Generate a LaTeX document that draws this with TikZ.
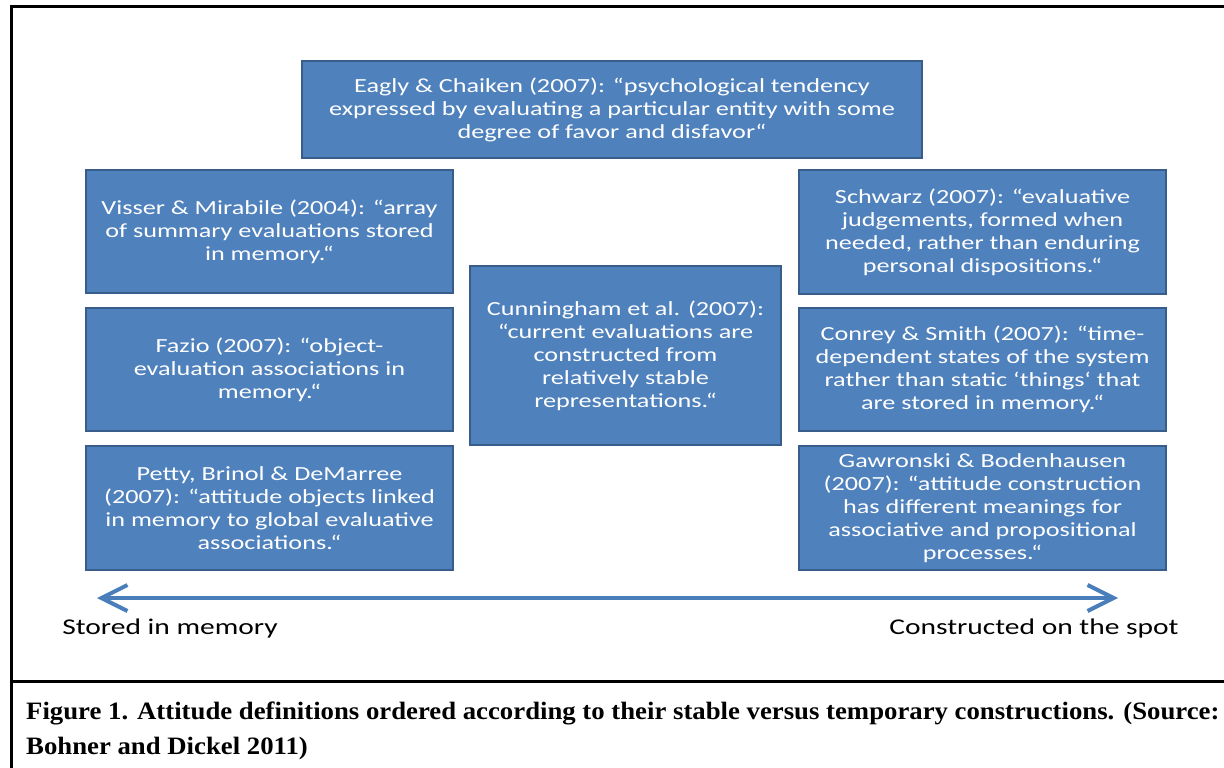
\documentclass[tikz,border=0pt]{standalone}
\usepackage{fontspec}
\setmainfont{Liberation Serif}
\newfontfamily\boxfont[FakeStretch=1.31]{Carlito}
\newfontfamily\captionfont[FakeStretch=1.07]{Liberation Serif}
\usetikzlibrary{arrows.meta}
\definecolor{boxblue}{HTML}{4F81BD}
\definecolor{boxedge}{HTML}{385D8A}
\definecolor{arrowblue}{HTML}{4A7EBB}
\begin{document}
\begin{tikzpicture}[x=1pt, y=-1pt,
    defbox/.style={draw=boxedge, line width=2pt, fill=boxblue, text=white,
        align=center, inner sep=0pt, font=\boxfont\fontsize{20}{23}\selectfont},
    sidebox/.style={defbox, minimum width=367pt, minimum height=123pt},
    endlabel/.style={font=\boxfont\fontsize{22.5}{26}\selectfont}]
\useasboundingbox (0,0) rectangle (1224,768);
% frame and caption rule
\draw[line width=3pt] (1230,7) -| (11,772);
\draw[line width=3pt] (11,681) -- (1230,681);
% definitions
\node[defbox, minimum width=620pt, minimum height=97pt] (eagly) at (612,109.5)
    {Eagly \& Chaiken (2007): “psychological tendency\\expressed by evaluating a particular entity with some\\degree of favor and disfavor“};
\node[sidebox] (visser) at (269.5,231.5)
    {Visser \& Mirabile (2004): “array\\of summary evaluations stored\\in memory.“};
\node[sidebox] (fazio) at (269.5,369.5)
    {Fazio (2007): “object-\\evaluation associations in\\memory.“};
\node[sidebox, minimum height=124pt] (petty) at (269.5,508)
    {Petty, Brinol \& DeMarree\\(2007): “attitude objects linked\\in memory to global evaluative\\associations.“};
\node[defbox, minimum width=311pt, minimum height=179pt] (cunningham) at (625.5,355.5)
    {Cunningham et al. (2007):\\“current evaluations are\\constructed from\\relatively stable\\representations.“};
\node[sidebox, minimum height=124pt] (schwarz) at (982.5,232)
    {Schwarz (2007): “evaluative\\judgements, formed when\\needed, rather than enduring\\personal dispositions.“};
\node[sidebox] (conrey) at (982.5,369.5)
    {Conrey \& Smith (2007): “time-\\dependent states of the system\\rather than static ‘things‘ that\\are stored in memory.“};
\node[sidebox, minimum height=124pt] (gawronski) at (982.5,508)
    {Gawronski \& Bodenhausen\\(2007): “attitude construction\\has different meanings for\\associative and propositional\\processes.“};
% stable versus temporary axis
\coordinate (stored) at (97,598);
\coordinate (constructed) at (1118,598);
\draw[arrowblue, line width=4pt, {Straight Barb[length=26pt, width=26pt]}-{Straight Barb[length=26pt, width=26pt]}] (stored) -- (constructed);
\node[endlabel] (storedlabel) at (170,628) {Stored in memory};
\node[endlabel] (constructedlabel) at (1034,628) {Constructed on the spot};
\node[anchor=base west, align=left, inner sep=0pt, font=\captionfont\bfseries\fontsize{25}{35}\selectfont] (caption) at (26,754)
    {Figure 1. Attitude definitions ordered according to their stable versus temporary constructions. (Source:\\Bohner and Dickel 2011)};
\end{tikzpicture}
\end{document}
